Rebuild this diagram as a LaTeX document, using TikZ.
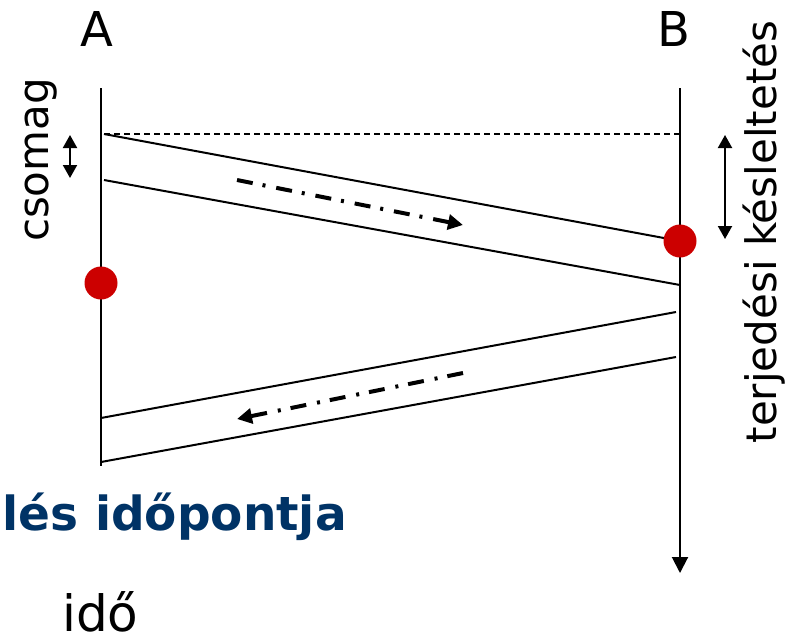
\documentclass[tikz,border=0pt]{standalone}
\usepackage{fontspec}
\setmainfont{DejaVu Sans}
\usetikzlibrary{arrows.meta}
\definecolor{dotred}{HTML}{CC0000}
\definecolor{titleblue}{HTML}{003366}
\begin{document}
\begin{tikzpicture}[x=1pt,y=-1pt,
  axis/.style={line width=2pt},
  pkt/.style={line width=2pt},
  flow/.style={line width=4pt,dash pattern=on 16pt off 10pt on 3pt off 11pt,-{Triangle[width=15pt,length=15pt]}},
  dbl/.style={line width=2pt,{Triangle[width=14pt,length=13pt]}-{Triangle[width=14pt,length=13pt]}},
  event/.style={circle,fill=dotred,inner sep=0pt,minimum size=33pt},
  lbl/.style={font=\fontsize{42}{48}\selectfont,inner sep=0pt}]
\useasboundingbox (0,0) rectangle (794,635);
% stations
\node[lbl,font=\fontsize{48}{54}\selectfont,anchor=base] (A) at (97,46) {A};
\node[lbl,font=\fontsize{48}{54}\selectfont,anchor=base] (B) at (674,46) {B};
\coordinate (Atop) at (101,88);
\coordinate (Abot) at (101,466);
\coordinate (Btop) at (680,88);
\coordinate (Bbot) at (680,573);
\draw[axis] (Atop) -- (Abot);
\draw[axis,-{Triangle[width=16pt,length=16pt]}] (Btop) -- (Bbot);
% packet lines
\coordinate (p1s) at (104,134);
\coordinate (p1e) at (680,241);
\coordinate (p2s) at (104,180);
\coordinate (p2e) at (680,285);
\coordinate (q1s) at (676,312);
\coordinate (q1e) at (101,418);
\coordinate (q2s) at (676,357);
\coordinate (q2e) at (101,462);
\coordinate (dS) at (104,134);
\coordinate (dE) at (680,134);
\draw[line width=1.4pt,dash pattern=on 6pt off 4pt] (dS) -- (dE);
\draw[pkt] (p1s) -- (p1e);
\draw[pkt] (p2s) -- (p2e);
\draw[pkt] (q1s) -- (q1e);
\draw[pkt] (q2s) -- (q2e);
% flow arrows
\coordinate (f1s) at (237,180);
\coordinate (f1e) at (463,225);
\coordinate (f2s) at (463,373);
\coordinate (f2e) at (237,419);
\draw[flow] (f1s) -- (f1e);
\draw[flow] (f2s) -- (f2e);
% events
\node[event] (eA) at (101,283) {};
\node[event] (eB) at (680,241) {};
% double arrows
\coordinate (c1) at (70,135);
\coordinate (c2) at (70,178);
\draw[dbl] (c1) -- (c2);
\coordinate (t1) at (725,135);
\coordinate (t2) at (725,239);
\draw[dbl] (t1) -- (t2);
% rotated labels
\node[lbl,rotate=90] (cs) at (41,160) {csomag};
\node[lbl,rotate=90] (tk) at (764,232) {terjedési késleltetés};
% bottom texts
\node[anchor=base east,inner sep=0pt,text=titleblue,font=\bfseries\fontsize{47}{54}\selectfont] (title) at (347,530) {lés időpontja};
\node[anchor=base west,inner sep=0pt,font=\fontsize{50}{56}\selectfont] (ido) at (62,631) {idő};
\end{tikzpicture}
\end{document}
